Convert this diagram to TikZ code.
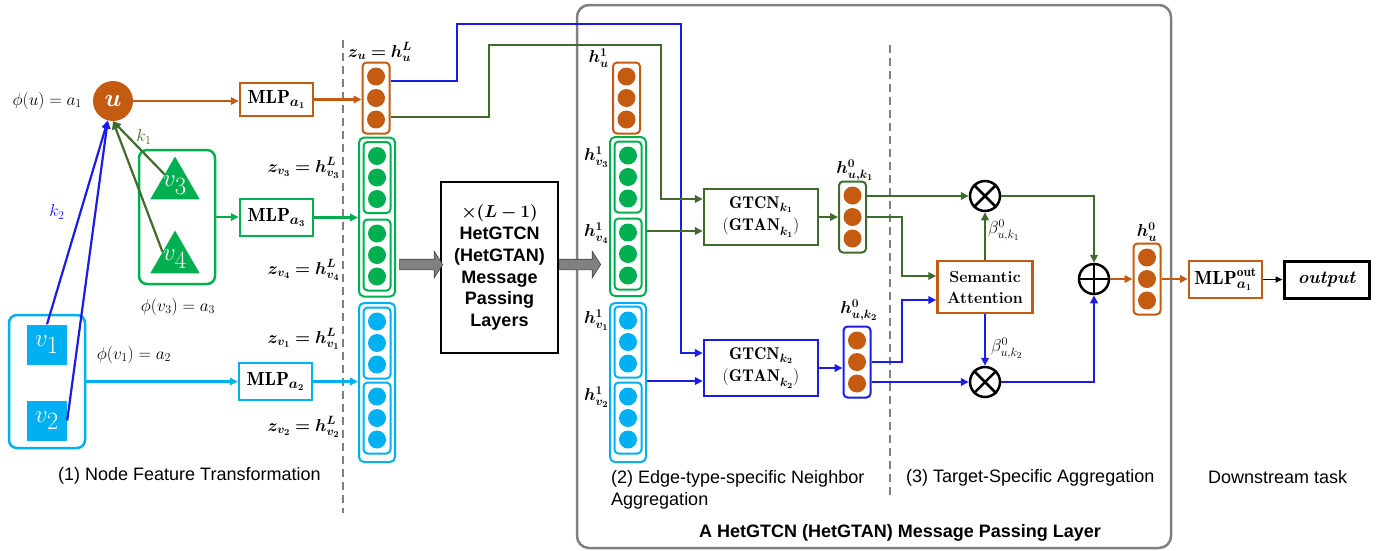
\documentclass[tikz,border=0pt]{standalone}
\usepackage{fontspec}
\setsansfont{Liberation Sans}
\usepackage{amsmath,bm}
\usetikzlibrary{shapes.geometric,shapes.arrows,arrows.meta,calc}
\definecolor{cor}{HTML}{C55A11}
\definecolor{cgr}{HTML}{00B050}
\definecolor{cdg}{HTML}{416B2C}
\definecolor{cbl}{HTML}{1C1CE6}
\definecolor{ccy}{HTML}{00B0F0}
\definecolor{cgy}{HTML}{808080}
\definecolor{cdgy}{HTML}{404040}
\newcommand{\myvec}[5]{%
  \node[vbox, draw=#4] (#1) at (#2,#3) {};
  \node[dot, fill=#5] (#1a) at (#2,#3-21.5) {};
  \node[dot, fill=#5] (#1b) at (#2,#3) {};
  \node[dot, fill=#5] (#1c) at (#2,#3+21.5) {};}
\begin{document}
\begin{tikzpicture}[x=1pt,y=-1pt,
  every node/.style={font=\fontsize{18}{22}\selectfont, inner sep=0pt},
  lw/.style={line width=2.2pt},
  arr/.style={lw,-{Triangle[length=8pt,width=7.5pt]}},
  vbox/.style={draw, rounded corners=4pt, line width=2pt, minimum width=27pt, minimum height=71pt, inner sep=0pt},
  obox/.style={draw, rounded corners=5pt, line width=2pt, minimum width=36pt, minimum height=159pt},
  dot/.style={circle, minimum size=18pt, inner sep=0pt},
  fbox/.style={draw, line width=2.5pt, minimum width=73pt, minimum height=37pt, fill=white, font=\fontsize{19}{22}\selectfont},
  xcirc/.style={circle, draw=black, line width=2.5pt, minimum size=30pt},
  sf/.style={font=\fontsize{18}{22}\selectfont\sffamily},
  garrow/.style={single arrow, draw=cdgy, fill=cgy, line width=0.6pt, text height=5pt, text depth=5pt, minimum width=26pt, single arrow head extend=8pt, single arrow tip angle=115, inner sep=0pt},
  dline/.style={draw=cgy, line width=1.6pt, dash pattern=on 8pt off 5pt},
]
\useasboundingbox (0,0) rectangle (1390,550);

% big layer box
\node[draw=cgy, line width=2.5pt, rounded corners=12pt, minimum width=594pt, minimum height=543pt] (layer) at (874,276.5) {};
% dashed separators
\coordinate (d1a) at (343,40); \coordinate (d1b) at (343,513);
\coordinate (d2a) at (890,45); \coordinate (d2b) at (890,495);
\draw[dline] (d1a) -- (d1b);
\draw[dline] (d2a) -- (d2b);

% ---------- (1) node feature transformation ----------
\node[circle, fill=cor, minimum size=40pt, text=white, font=\fontsize{30}{30}\selectfont] (u) at (113,101) {$\bm{u}$};
\node[anchor=east] (phiu) at (82,101) {$\phi(u)=a_1$};

\node[draw=cgr, line width=2.5pt, rounded corners=8pt, minimum width=76pt, minimum height=134pt] (grpg) at (177,217) {};
\node[regular polygon, regular polygon sides=3, minimum size=57pt, fill=cgr, label={[text=white,font=\fontsize{34}{34}\selectfont]center:$v_3$}] (v3) at (175,185) {};
\node[regular polygon, regular polygon sides=3, minimum size=57pt, fill=cgr, label={[text=white,font=\fontsize{34}{34}\selectfont]center:$v_4$}] (v4) at (175,259) {};
\node (phiv3) at (178,307) {$\phi(v_3)=a_3$};

\node[draw=ccy, line width=2.5pt, rounded corners=8pt, minimum width=76pt, minimum height=133pt] (grpc) at (47,381.5) {};
\node[fill=ccy, minimum size=40pt, text=white, font=\fontsize{36}{36}\selectfont] (v1) at (47,344.5) {$v_1$};
\node[fill=ccy, minimum size=40pt, text=white, font=\fontsize{36}{36}\selectfont] (v2) at (47,420.5) {$v_2$};
\node (phiv1) at (134,355) {$\phi(v_1)=a_2$};

\draw[arr, cdg] ($(v3.corner 1)!0.42!(v3.corner 2)$) -- (u.south);
\draw[arr, cdg] ($(v4.corner 1)!0.5!(v4.corner 2)$) -- (u.south);
\draw[arr, cbl] (v1.north) -- (u.255);
\draw[arr, cbl] (v2.east) -- (u.255);
\node[text=cdg] (k1) at (144,137) {$k_1$};
\node[text=cbl] (k2) at (57,212) {$k_2$};

\node[fbox, draw=cor, minimum height=33pt] (mlp1) at (276.5,99.5) {$\mathbf{MLP}_{\bm{a_1}}$};
\node[fbox, draw=cgr] (mlp3) at (276.5,217.5) {$\mathbf{MLP}_{\bm{a_3}}$};
\node[fbox, draw=ccy] (mlp2) at (275.5,381.5) {$\mathbf{MLP}_{\bm{a_2}}$};
\draw[arr, cor] (u.east) -- (u.east -| mlp1.west);
\draw[arr, cgr] (grpg.east) -- (grpg.east -| mlp3.west);
\draw[arr, ccy] (grpc.east) -- (grpc.east -| mlp2.west);

% layer-L embeddings
\myvec{zu}{376}{98}{cor}{cor}
\node[obox, draw=cgr] (Lg) at (377,217) {};
\myvec{Lg1}{377}{177.5}{cgr}{cgr}
\myvec{Lg2}{377}{255}{cgr}{cgr}
\node[obox, draw=ccy] (Lc) at (377,382.5) {};
\myvec{Lc1}{377}{343}{ccy}{ccy}
\myvec{Lc2}{377}{418}{ccy}{ccy}
\draw[arr, cor] (mlp1.east) -- (mlp1.east -| zu.west);
\draw[arr, cgr] (mlp3.east) -- (mlp3.east -| Lg.west);
\draw[arr, ccy] (mlp2.east) -- (mlp2.east -| Lc.west);

\node (lzu) at (380,52) {$\bm{z_u = h_u^L}$};
\node[anchor=east] (lz3) at (340,168) {$\bm{z_{v_3} = h_{v_3}^L}$};
\node[anchor=east] (lz4) at (340,270) {$\bm{z_{v_4} = h_{v_4}^L}$};
\node[anchor=east] (lz1) at (340,339) {$\bm{z_{v_1} = h_{v_1}^L}$};
\node[anchor=east] (lz2) at (340,427) {$\bm{z_{v_2} = h_{v_2}^L}$};

% L-1 layers block
\node[draw, line width=2.5pt, minimum width=117pt, minimum height=171pt, align=center, font=\fontsize{18}{21.8}\selectfont\sffamily\bfseries] (mp) at (499.5,267.5) {$\bm{\times(L-1)}$\\HetGTCN\\(HetGTAN)\\Message\\Passing\\Layers};
\node[garrow, minimum height=43pt] (ga1) at (419.5,264.5) {};
\node[garrow, minimum height=41pt] (ga2) at (578.5,264.5) {};

% ---------- (2) edge-type-specific aggregation ----------
\myvec{hu}{626.5}{98}{cor}{cor}
\node[obox, draw=cgr] (Hg) at (628,216.5) {};
\myvec{Hg1}{628}{177}{cgr}{cgr}
\myvec{Hg2}{628}{254}{cgr}{cgr}
\node[obox, draw=ccy] (Hc) at (628,382.5) {};
\myvec{Hc1}{628}{342}{ccy}{ccy}
\myvec{Hc2}{628}{418}{ccy}{ccy}
\node[anchor=east] (lhu) at (609,58) {$\bm{h_u^1}$};
\node[anchor=east] (lh3) at (609,157) {$\bm{h_{v_3}^1}$};
\node[anchor=east] (lh4) at (609,233) {$\bm{h_{v_4}^1}$};
\node[anchor=east] (lh1) at (609,320) {$\bm{h_{v_1}^1}$};
\node[anchor=east] (lh2) at (609,397) {$\bm{h_{v_2}^1}$};

\node[draw=cdg, line width=2.5pt, minimum width=114pt, minimum height=56pt, align=center, font=\fontsize{17}{22}\selectfont] (gk1) at (761,217) {$\mathbf{GTCN}_{\bm{k_1}}$\\$\mathbf{(GTAN}_{\bm{k_1}}\mathbf{)}$};
\node[draw=cbl, line width=2.5pt, minimum width=114pt, minimum height=56pt, align=center, font=\fontsize{17}{22}\selectfont] (gk2) at (761,368) {$\mathbf{GTCN}_{\bm{k_2}}$\\$\mathbf{(GTAN}_{\bm{k_2}}\mathbf{)}$};

\draw[arr, cbl] ([yshift=17pt]zu.east) -| (457,24) -| (681,353) -- (gk2.west |- 0,353);
\draw[arr, cdg] ([yshift=-19pt]zu.east) -| (489,45) -| (661,199) -- (gk1.west |- 0,199);
\draw[arr, cdg] (Hg.east |- 0,231) -- (gk1.west |- 0,231);
\draw[arr, cbl] (Hc.east |- 0,381) -- (gk2.west |- 0,381);

\myvec{hk1}{852.5}{217}{cdg}{cor}
\myvec{hk2}{857}{362}{cbl}{cor}
\node (lhk1) at (855,170) {$\bm{h_{u,k_1}^0}$};
\node (lhk2) at (859,310) {$\bm{h_{u,k_2}^0}$};
\draw[arr, cdg] (gk1.east) -- (gk1.east -| hk1.west);
\draw[arr, cbl] (gk2.east) -- (gk2.east -| hk2.west);

% ---------- (3) target-specific aggregation ----------
\node[xcirc] (ot1) at (985,196) {};
\node[xcirc] (ot2) at (985,382) {};
\node[xcirc] (op) at (1094,279) {};
\draw[line width=2.5pt] (ot1.north west) -- (ot1.south east) (ot1.north east) -- (ot1.south west);
\draw[line width=2.5pt] (ot2.north west) -- (ot2.south east) (ot2.north east) -- (ot2.south west);
\draw[line width=2.5pt] (op.north) -- (op.south) (op.west) -- (op.east);

\node[draw=cor, line width=2.5pt, minimum width=95pt, minimum height=52pt, align=center, font=\fontsize{16}{21}\selectfont\bfseries] (sa) at (985,287) {Semantic\\Attention};

\draw[arr, cdg] (hk1.east |- ot1) -- (ot1.west);
\draw[arr, cdg] (hk1.east |- 0,217) -| (902,276) -- (sa.west |- 0,276);
\draw[arr, cbl] (hk2.east |- 0,362) -| (902,300) -- (sa.west |- 0,300);
\draw[arr, cbl] (hk2.east |- ot2) -- (ot2.west);
\draw[arr, cdg] (sa.north) -- (ot1.south);
\draw[arr, cbl] (sa.south) -- (ot2.north);
\node[anchor=west] (lb1) at (988,230) {$\beta_{u,k_1}^0$};
\node[anchor=west] (lb2) at (991,348) {$\beta_{u,k_2}^0$};
\draw[arr, cdg] (ot1.east) -| (op.north);
\draw[arr, cbl] (ot2.east) -| (op.south);

\myvec{hu0}{1147}{279}{cor}{cor}
\node (lhu0) at (1147,232) {$\bm{h_u^0}$};
\draw[arr, cor] (op.east) -- (hu0.west);

% ---------- downstream ----------
\node[fbox, draw=cor] (mlpo) at (1225.5,279.5) {$\mathbf{MLP}_{\bm{a_1}}^{\mathbf{out}}$};
\node[draw=black, line width=3pt, minimum width=85pt, minimum height=37pt, font=\fontsize{18}{22}\selectfont\bfseries\itshape] (out) at (1326.5,279.5) {output};
\draw[arr, cor] (hu0.east) -- (hu0.east -| mlpo.west);
\draw[-{Triangle[length=7pt,width=6pt]}, line width=1.6pt] (mlpo.east) -- (out.west);

% ---------- captions ----------
\node[sf, anchor=west] (c1) at (58,476) {(1) Node Feature Transformation};
\node[sf, anchor=north west, align=left] (c2) at (611,470) {(2) Edge-type-specific Neighbor\\Aggregation};
\node[sf, anchor=west] (c3) at (906,478) {(3) Target-Specific Aggregation};
\node[sf, anchor=west] (c4) at (1208,477) {Downstream task};
\node[sf, font=\fontsize{18}{22}\selectfont\sffamily\bfseries] (c5) at (900,533) {A HetGTCN (HetGTAN) Message Passing Layer};
\end{tikzpicture}
\end{document}
